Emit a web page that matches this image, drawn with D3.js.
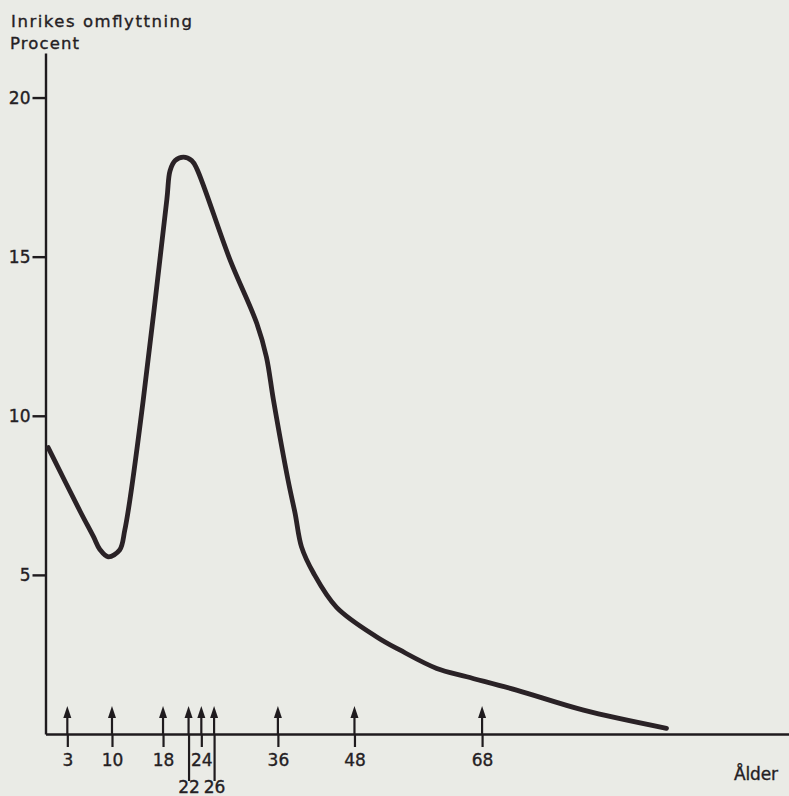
<!DOCTYPE html>
<html>
<head>
<meta charset="utf-8">
<script src="https://cdn.jsdelivr.net/npm/d3@7"></script>
<style>
  html, body { margin: 0; padding: 0; background: #eaebe6; }
  svg { display: block; }
  text { font-family: "DejaVu Sans", "Liberation Sans", Arial, sans-serif; fill: #242023;
         stroke: #242023; stroke-width: 0.35px; }
</style>
</head>
<body>
<svg id="chart" width="789" height="796"></svg>
<script>
// Inrikes omflyttning (procent) efter ålder
const ages  = [0, 5.0, 7.1, 8.1, 9.4, 11.2, 12.0, 12.8, 14.9, 18.6, 19.1, 19.9, 21.2, 22.5, 23.3,
               28.5, 32.7, 34.2, 35.3, 37.6, 38.7, 39.7, 41.6, 45.2, 51.5, 55.1, 60.9, 65.6, 73.4, 83.9, 96.9];
const rates = [9.0, 7.0, 6.2, 5.8, 5.57, 5.78, 6.4, 7.35, 10.5, 16.8, 17.7, 18.02, 18.13, 18.02, 17.76,
               14.9, 12.9, 11.85, 10.5, 7.97, 6.93, 5.88, 5.05, 3.98, 3.05, 2.64, 2.06, 1.8, 1.38, 0.75, 0.18];

// Marked ages along the horizontal axis (arrows); some labels sit on a lower row
const markedAges = [3, 10, 18, 22, 24, 26, 36, 48, 68];
const lowerRowAges = [22, 26];
const yTicks = [5, 10, 15, 20];

const titleLines = ["Inrikes omflyttning", "Procent"];
const xTitle = "Ålder";

const ink = "#1f1b1e";
const font = "'DejaVu Sans', 'Liberation Sans', Arial, sans-serif";
const svg = d3.select("#chart");

const x = d3.scaleLinear().domain([-0.42, 116.1]).range([45.5, 789]);
const y = d3.scaleLinear().domain([0, 21.4]).range([734, 53]);

// Title
svg.append("text").attr("x", 11).attr("y", 27)
  .attr("font-size", 16.5).attr("textLength", 181).attr("lengthAdjust", "spacing")
  .text(titleLines[0]);
svg.append("text").attr("x", 10).attr("y", 48.5)
  .attr("font-size", 16.5).attr("textLength", 69).attr("lengthAdjust", "spacing")
  .text(titleLines[1]);

// Y axis
const yAxis = svg.append("g")
  .attr("transform", `translate(${x(-0.42)},0)`)
  .call(d3.axisLeft(y).tickValues(yTicks).tickSize(13).tickSizeOuter(0).tickPadding(2));
yAxis.select(".domain").attr("stroke", ink).attr("stroke-width", 2.4);
yAxis.selectAll(".tick line").attr("stroke", ink).attr("stroke-width", 2.4);
yAxis.selectAll(".tick text").attr("font-size", 17)
  .attr("font-family", font).attr("fill", "#242023");

// X axis with marked ages
const xAxis = svg.append("g")
  .attr("transform", `translate(0,${y(0)})`)
  .call(d3.axisBottom(x).tickValues(markedAges).tickSize(13).tickSizeOuter(0).tickFormat(d3.format("d")));
xAxis.select(".domain").attr("stroke", ink).attr("stroke-width", 2.4);
xAxis.selectAll(".tick line")
  .attr("stroke", ink).attr("stroke-width", 2.2)
  .attr("y2", d => lowerRowAges.includes(d) ? 47 : 13);
xAxis.selectAll(".tick text")
  .attr("font-size", 17).attr("font-family", font)
  .attr("fill", "#242023")
  .attr("dy", null)
  .attr("y", d => lowerRowAges.includes(d) ? 59 : 32);

// Arrows above the axis
const arrows = svg.append("g").selectAll("g").data(markedAges).join("g")
  .attr("transform", d => `translate(${x(d)},0)`);
arrows.append("line")
  .attr("x1", 0).attr("x2", 0).attr("y1", 714).attr("y2", y(0))
  .attr("stroke", ink).attr("stroke-width", 2.2);
arrows.append("path")
  .attr("d", "M0,706 L4,718 L-4,718 Z")
  .attr("fill", ink);

// X axis title
svg.append("text").attr("x", 734).attr("y", 780)
  .attr("font-size", 17).attr("textLength", 44).attr("lengthAdjust", "spacing")
  .text(xTitle);

// Migration curve
const line = d3.line()
  .x((d, i) => x(ages[i]))
  .y(d => y(d))
  .curve(d3.curveCatmullRom.alpha(0.5));
svg.append("path")
  .datum(rates)
  .attr("d", line)
  .attr("fill", "none")
  .attr("stroke", "#2a2226")
  .attr("stroke-width", 4.8)
  .attr("stroke-linecap", "round")
  .attr("stroke-linejoin", "round");
</script>
</body>
</html>
